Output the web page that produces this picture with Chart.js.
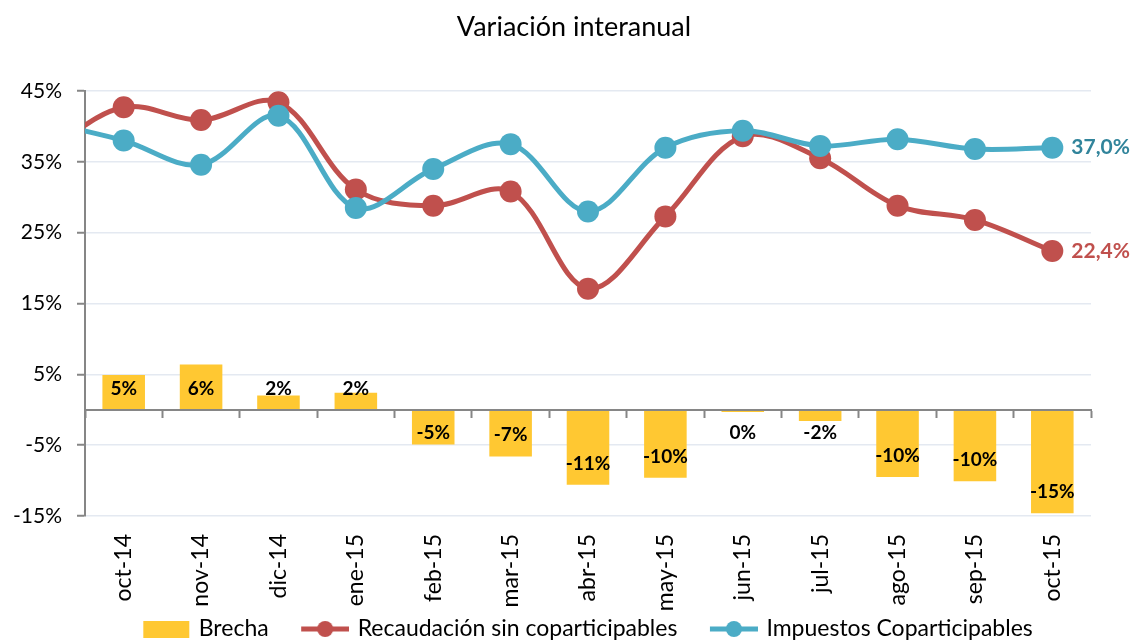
<!DOCTYPE html>
<html>
<head>
<meta charset="utf-8">
<title>Variación interanual</title>
<script src="https://cdn.jsdelivr.net/npm/chart.js@4.4.1/dist/chart.umd.min.js"></script>
<style>
  html, body { margin: 0; padding: 0; background: #fff; overflow: hidden; }
</style>
</head>
<body>
<canvas id="chart" width="1136" height="642"></canvas>
<script>
// sep-14 is only the lead-in of both lines (clipped at the left edge, as in the original)
const months = ['sep-14', 'oct-14', 'nov-14', 'dic-14', 'ene-15', 'feb-15', 'mar-15', 'abr-15',
                'may-15', 'jun-15', 'jul-15', 'ago-15', 'sep-15', 'oct-15'];
const brecha          = [null, 4.9, 6.4, 2.0, 2.4, -4.9, -6.6, -10.6, -9.6, -0.3, -1.6, -9.5, -10.1, -14.6];
const recaudacion     = [36.5, 42.7, 40.9, 43.4, 31.1, 28.8, 30.8, 17.1, 27.3, 38.6, 35.5, 28.8, 26.8, 22.4];
const coparticipables = [40.6, 38.0, 34.6, 41.5, 28.5, 34.0, 37.5, 28.0, 37.0, 39.4, 37.25, 38.2, 36.8, 37.0];
const yMin = -15, yMax = 45, yStep = 10;

const COLORS = {
  gold:     '#FFC832',
  red:      '#C0504D',
  teal:     '#4BACC6',
  tealText: '#31849B',
  axis:     '#868686',
  grid:     '#E4E9F1',
  text:     '#000000',
};

Chart.defaults.font.family = "Lato, 'Open Sans', sans-serif";
Chart.defaults.color = COLORS.text;

// legend icons carry 30px of blank space on the left, used as the gap between entries
function legendIcon(kind, color) {
  const c = document.createElement('canvas');
  c.width = 78; c.height = 18;
  const g = c.getContext('2d');
  g.fillStyle = color;
  if (kind === 'bar') {
    g.fillRect(31, 1, 46, 17);
  } else {
    g.fillRect(30, 6.5, 48, 5);
    g.beginPath();
    g.arc(54, 9, 8, 0, Math.PI * 2);
    g.fill();
  }
  return c;
}
const icons = [legendIcon('bar', COLORS.gold), legendIcon('line', COLORS.red), legendIcon('line', COLORS.teal)];

const barLabels = {
  id: 'barLabels',
  afterDatasetsDraw(chart) {
    const meta = chart.getDatasetMeta(0);
    const y = chart.scales.y;
    const ctx = chart.ctx;
    ctx.save();
    ctx.font = "bold 19px Lato, sans-serif";
    ctx.fillStyle = COLORS.text;
    ctx.textAlign = 'center';
    ctx.textBaseline = 'middle';
    meta.data.forEach((bar, i) => {
      const v = brecha[i];
      if (v === null || v === undefined) return;
      const r = Math.sign(v) * Math.round(Math.abs(v));
      const at = v > 0 ? 3 : Math.min(-3.2, v + 3);
      ctx.fillText((r || 0) + '%', bar.x, y.getPixelForValue(at));
    });
    ctx.restore();
  }
};

const endLabels = {
  id: 'endLabels',
  afterDatasetsDraw(chart) {
    const ctx = chart.ctx;
    ctx.save();
    ctx.font = "bold 21px Lato, sans-serif";
    ctx.textAlign = 'left';
    ctx.textBaseline = 'middle';
    [[1, COLORS.red], [2, COLORS.tealText]].forEach(([di, col]) => {
      const pts = chart.getDatasetMeta(di).data;
      const last = pts[pts.length - 1];
      const v = chart.data.datasets[di].data[pts.length - 1];
      ctx.fillStyle = col;
      ctx.fillText(v.toFixed(1).replace('.', ',') + '%', last.x + 19, last.y);
    });
    ctx.restore();
  }
};

const lineStyle = color => ({
  type: 'line',
  borderColor: color,
  backgroundColor: color,
  borderWidth: 5,
  pointRadius: 11,
  pointBackgroundColor: color,
  pointBorderWidth: 0,
  tension: 0.35,
  fill: false,
  clip: { left: 0, top: 20, right: 20, bottom: 20 },
});

new Chart(document.getElementById('chart'), {
  type: 'bar',
  data: {
    labels: months,
    datasets: [
      {
        type: 'bar',
        label: 'Brecha',
        data: brecha,
        backgroundColor: COLORS.gold,
        borderWidth: 0,
        barPercentage: 0.55,
        categoryPercentage: 1,
        order: 3,
      },
      { ...lineStyle(COLORS.red),  label: 'Recaudación sin coparticipables', data: recaudacion, order: 2 },
      { ...lineStyle(COLORS.teal), label: 'Impuestos Coparticipables', data: coparticipables, order: 1 },
    ],
  },
  options: {
    responsive: false,
    devicePixelRatio: 1,
    animation: false,
    events: [],
    layout: { padding: { left: 12, right: 0, top: 0, bottom: -8.5 } },
    plugins: {
      tooltip: { enabled: false },
      title: {
        display: true,
        text: 'Variación interanual',
        color: COLORS.text,
        font: { size: 27, weight: 'normal' },
        padding: { top: 10.8, bottom: 47.8 },
      },
      legend: {
        position: 'bottom',
        labels: {
          usePointStyle: true,
          pointStyleWidth: 72,
          boxHeight: 18,
          padding: 5.5,
          color: COLORS.text,
          font: { size: 23 },
          sort: (a, b) => a.datasetIndex - b.datasetIndex,
          generateLabels: chart => Chart.defaults.plugins.legend.labels.generateLabels(chart)
            .map(it => ({ ...it, pointStyle: icons[it.datasetIndex] })),
        },
      },
    },
    scales: {
      x: {
        min: months[1],
        offset: true,
        grid: { display: false },
        border: { display: false },
        ticks: { color: COLORS.text, font: { size: 23 }, minRotation: 90, maxRotation: 90, padding: 10, autoSkip: false },
        afterFit: s => { s.height = 96; },
      },
      x2: {
        type: 'category',
        axis: 'x',
        position: { y: 0 },
        min: months[1],
        offset: true,
        ticks: { display: false },
        grid: { offset: true, drawOnChartArea: false, drawTicks: true, tickLength: 7, tickColor: COLORS.axis, tickWidth: 2 },
        border: { color: COLORS.axis, width: 2, z: 1 },
      },
      y: {
        min: yMin,
        max: yMax,
        ticks: { stepSize: yStep, color: COLORS.text, font: { size: 21 }, padding: 15, callback: v => v + '%' },
        grid: { color: COLORS.grid, lineWidth: 1.5, tickColor: COLORS.axis, tickLength: 8, tickWidth: 2 },
        border: { color: COLORS.axis, width: 2 },
        afterFit: s => { s.width = 73; },
      },
      // empty right-hand strip that leaves room for the end labels
      yRight: {
        type: 'linear',
        position: 'right',
        grid: { display: false },
        border: { display: false },
        ticks: { display: false },
        afterFit: s => { s.width = 45; },
      },
    },
  },
  plugins: [barLabels, endLabels],
});
</script>
</body>
</html>
